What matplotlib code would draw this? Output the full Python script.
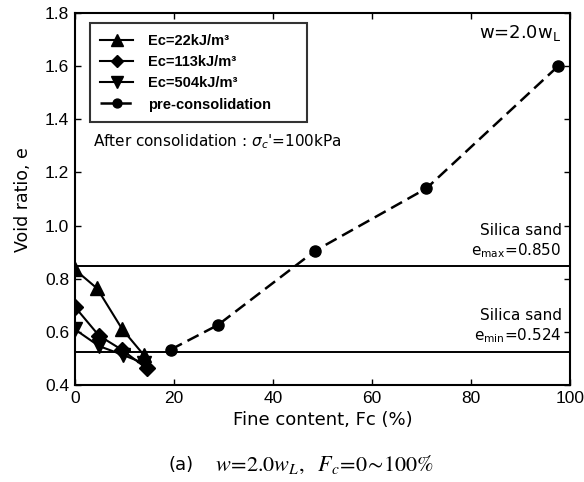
import numpy as np
import matplotlib
matplotlib.use('Agg')
import matplotlib.pyplot as plt

plt.rcParams['font.family'] = ['DejaVu Sans']
plt.rcParams['mathtext.fontset'] = 'dejavusans'

# void ratio vs fine content, w = 2.0 wL
fc_22 = [0, 4.5, 9.6, 14.0]
e_22 = [0.835, 0.764, 0.610, 0.512]
fc_113 = [0, 4.9, 9.6, 14.5]
e_113 = [0.695, 0.586, 0.532, 0.463]
fc_504 = [0, 4.9, 9.8, 14.0]
e_504 = [0.610, 0.547, 0.513, 0.482]
fc_pre = [19.4, 28.9, 48.5, 71.0, 97.6]
e_pre = [0.534, 0.626, 0.905, 1.140, 1.600]

e_max = 0.850
e_min = 0.524

fig = plt.figure(figsize=(5.84, 4.82), dpi=100)
ax = fig.add_axes([0.128, 0.201, 0.848, 0.772])

ax.axhline(e_max, color='black', linewidth=1.4, zorder=1)
ax.axhline(e_min, color='black', linewidth=1.4, zorder=1)

ax.plot(fc_22, e_22, color='black', linewidth=1.5, marker='^', markersize=10,
        label='Ec=22kJ/m³', zorder=3)
ax.plot(fc_113, e_113, color='black', linewidth=1.5, marker='D', markersize=8,
        label='Ec=113kJ/m³', zorder=3)
ax.plot(fc_504, e_504, color='black', linewidth=1.5, marker='v', markersize=10,
        label='Ec=504kJ/m³', zorder=3)
ax.plot(fc_pre, e_pre, color='black', linewidth=1.8, linestyle=(0, (5, 2.5)),
        marker='o', markersize=8, label='pre-consolidation', zorder=3)

ax.set_xlim(0, 100)
ax.set_ylim(0.4, 1.8)
ax.set_xticks(np.arange(0, 101, 20))
ax.set_yticks(np.arange(0.4, 1.81, 0.2))
ax.set_yticklabels(['%.1f' % v for v in np.arange(0.4, 1.81, 0.2)])
ax.tick_params(direction='in', top=True, right=True, length=4, width=1,
               labelsize=12.5, pad=4)
plt.setp(ax.get_xticklabels() + ax.get_yticklabels(), fontfamily='Liberation Sans')
for sp in ax.spines.values():
    sp.set_linewidth(1.5)

ax.set_xlabel('Fine content, Fc (%)', fontsize=13, labelpad=4)
ax.set_ylabel('Void ratio, e', fontsize=12.5, labelpad=9)

# legend box stretched to a fixed width
leg = ax.legend(loc='upper left', bbox_to_anchor=(0.030, 0.704, 0.439, 0.268),
                mode='expand',
                prop={'family': 'Liberation Sans', 'weight': 'bold', 'size': 10.5},
                frameon=True, fancybox=False,
                edgecolor='black', handlelength=2.3, handletextpad=1.0,
                borderpad=0.7, labelspacing=0.5, borderaxespad=0,
                markerscale=0.8)
leg.get_frame().set_linewidth(1.5)

ax.text(0.037, 0.655, r"After consolidation : $\sigma_c$'=100kPa",
        transform=ax.transAxes, fontsize=11, va='center', ha='left')
ax.text(0.983, 0.947, r"w=2.0w$_{\rm L}$", transform=ax.transAxes,
        fontsize=13, va='center', ha='right')

ax.text(0.983, 0.415, 'Silica sand', transform=ax.transAxes, fontsize=11,
        va='center', ha='right')
ax.text(0.983, 0.362, r"e$_{\rm max}$=0.850", transform=ax.transAxes,
        fontsize=11, va='center', ha='right')
ax.text(0.983, 0.188, 'Silica sand', transform=ax.transAxes, fontsize=11,
        va='center', ha='right')
ax.text(0.983, 0.134, r"e$_{\rm min}$=0.524", transform=ax.transAxes,
        fontsize=11, va='center', ha='right')

fig.text(0.288, 0.036, '(a)', fontsize=13, ha='left', va='center')
fig.text(0.368, 0.036, r"$w\!=\!2.0w_L,\ \ F_c\!=\!0\!\sim\!100\%$",
         fontsize=16, ha='left', va='center', math_fontfamily='stix')

plt.savefig('out.png', dpi=100)
